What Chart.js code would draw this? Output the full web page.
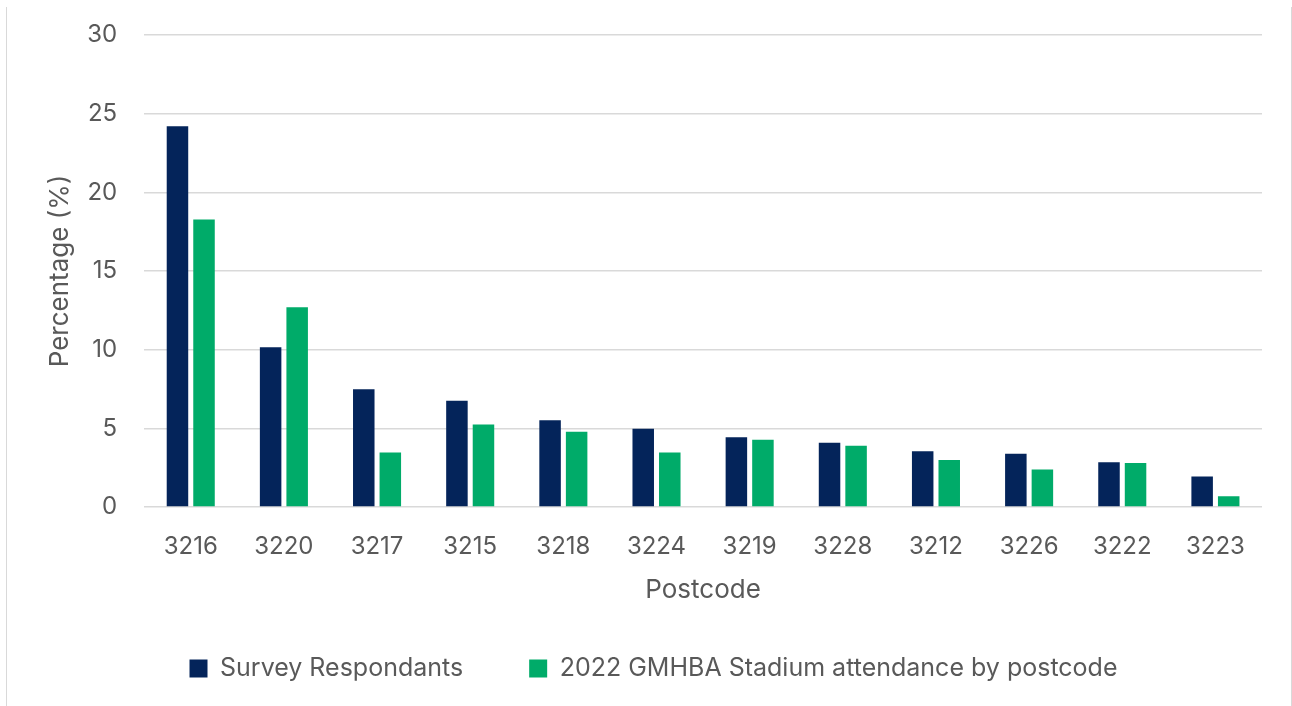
<!DOCTYPE html>
<html>
<head>
<meta charset="utf-8">
<script src="https://cdn.jsdelivr.net/npm/chart.js@4"></script>
<style>
  html, body { margin: 0; padding: 0; background: #fff; }
  #frame {
    position: absolute; left: 6px; top: 7px; width: 1284px; height: 699px;
    border-left: 1px solid #d9d9d9; border-right: 1px solid #d9d9d9;
  }
</style>
</head>
<body>
<div id="frame"><canvas id="postcodeChart"></canvas></div>
<script>
const postcodes = ['3216', '3220', '3217', '3215', '3218', '3224', '3219', '3228', '3212', '3226', '3222', '3223'];
const surveyRespondants = [24.2, 10.15, 7.48, 6.76, 5.51, 4.97, 4.44, 4.09, 3.54, 3.39, 2.84, 1.94];
const stadiumAttendance = [18.28, 12.7, 3.46, 5.25, 4.79, 3.47, 4.28, 3.9, 2.98, 2.39, 2.79, 0.68];
const yTicks = [0, 5, 10, 15, 20, 25, 30];

const textColor = '#595959';
const fontFamily = 'Inter, "Noto Sans", sans-serif';

const ctx = document.getElementById('postcodeChart');
new Chart(ctx, {
    type: 'bar',
    data: {
        labels: postcodes,
        datasets: [{
            label: 'Survey Respondants',
            data: surveyRespondants,
            backgroundColor: '#04245a'
        }, {
            label: '2022 GMHBA Stadium attendance by postcode',
            data: stadiumAttendance,
            backgroundColor: '#00ab69'
        }]
    },
    options: {
        responsive: true,
        maintainAspectRatio: false,
        animation: false,
        categoryPercentage: 0.57,
        barPercentage: 0.81,
        layout: {
            padding: { top: 28, right: 29, bottom: 15, left: 38 }
        },
        scales: {
            x: {
                grid: { display: false, drawTicks: false },
                border: { display: false },
                ticks: {
                    color: textColor,
                    padding: 25,
                    font: { family: fontFamily, size: 24 }
                },
                // negative paddings pull the title closer to the tick labels
                title: {
                    display: true,
                    text: 'Postcode',
                    color: textColor,
                    padding: { top: -11, bottom: -16 },
                    font: { family: fontFamily, size: 26 }
                }
            },
            y: {
                min: 0,
                max: 30,
                afterBuildTicks: axis => { axis.ticks = yTicks.map(v => ({ value: v })); },
                // invisible tick marks give the label gap without pushing the top down
                grid: {
                    color: '#d9d9d9',
                    lineWidth: 1.5,
                    drawTicks: true,
                    tickLength: 14,
                    tickColor: 'rgba(0,0,0,0)'
                },
                border: { display: false },
                ticks: {
                    color: textColor,
                    padding: 13,
                    font: { family: fontFamily, size: 24 }
                },
                title: {
                    display: true,
                    text: 'Percentage (%)',
                    color: textColor,
                    padding: { top: 0, bottom: -2 },
                    font: { family: fontFamily, size: 26 }
                }
            }
        },
        plugins: {
            tooltip: { enabled: false },
            legend: {
                position: 'bottom',
                labels: {
                    color: textColor,
                    boxWidth: 18,
                    boxHeight: 18,
                    padding: 66,
                    font: { family: fontFamily, size: 25 }
                }
            }
        }
    }
});
</script>
</body>
</html>
